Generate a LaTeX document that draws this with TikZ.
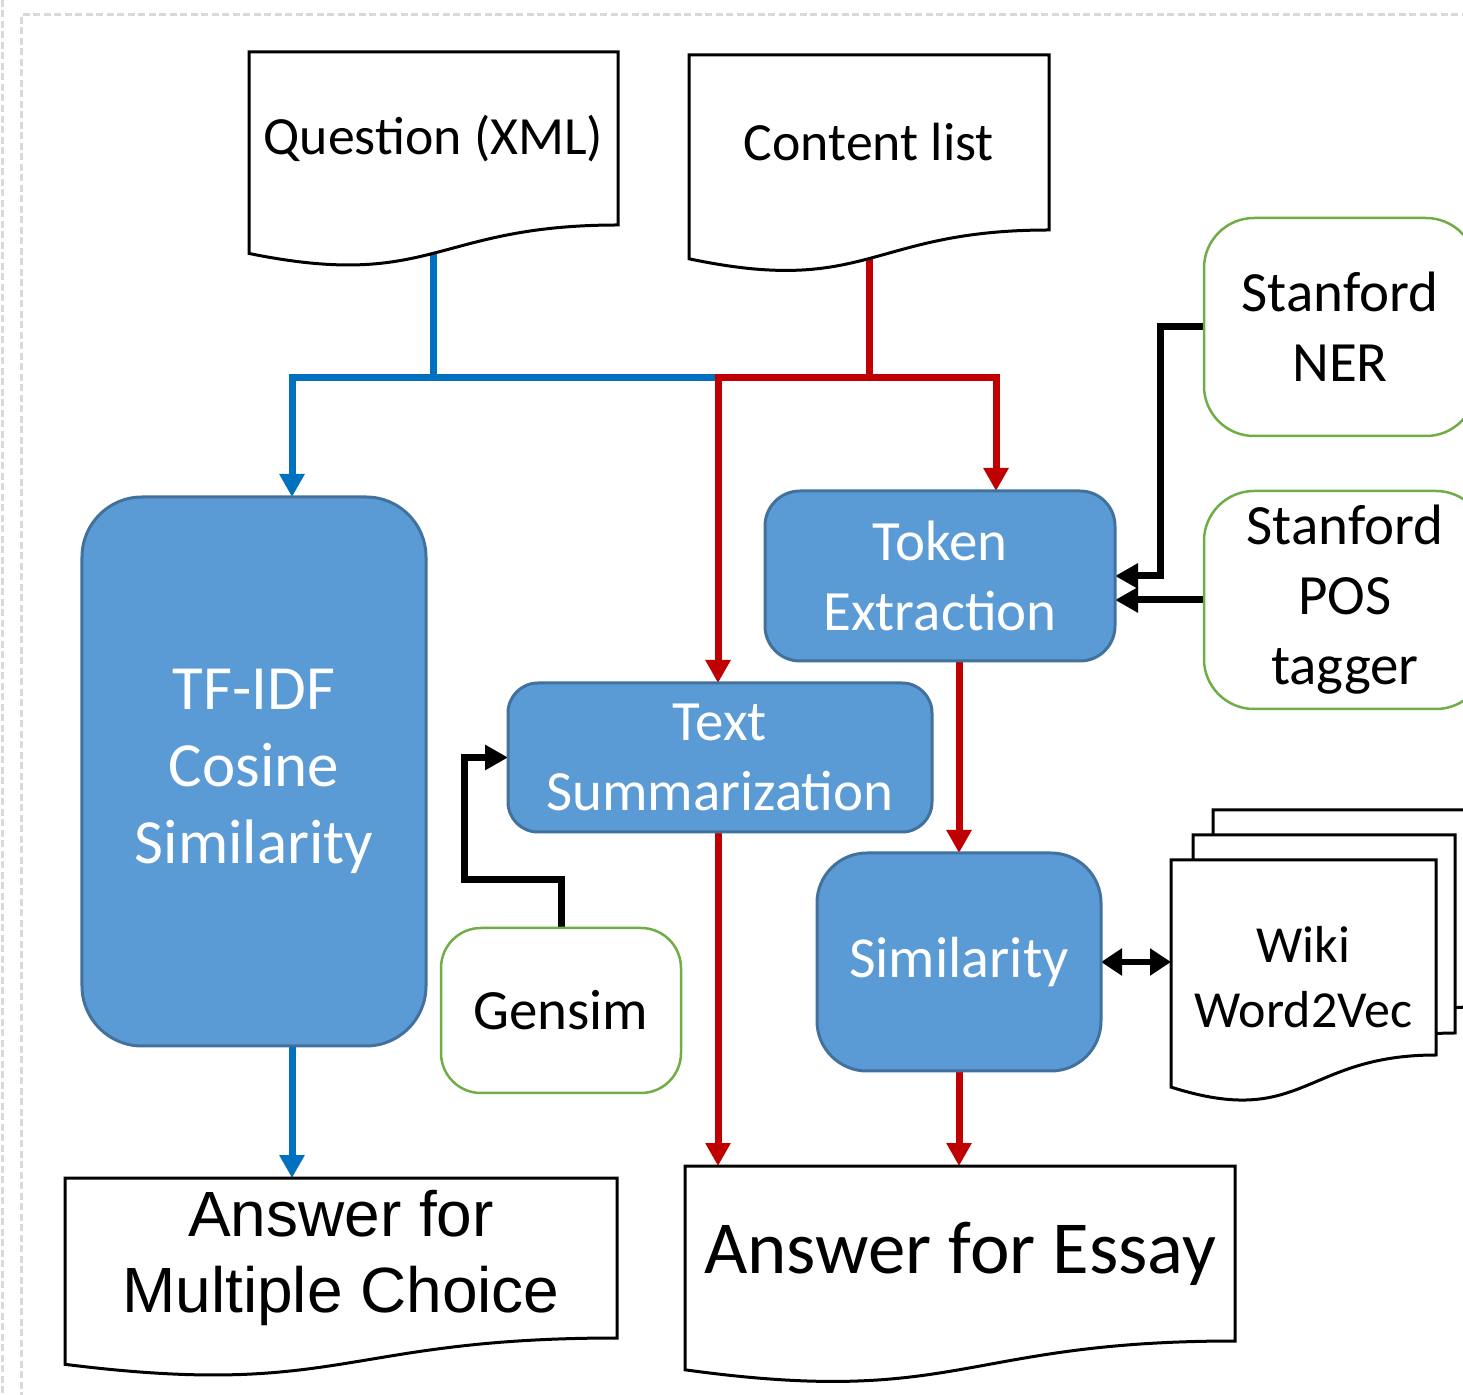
\documentclass[tikz,border=0pt]{standalone}
\usepackage{fontspec}
\setmainfont{Carlito}
\newfontfamily\arialfont{Liberation Sans}
\usetikzlibrary{arrows.meta, calc, positioning}
\pgfdeclarelayer{bg1}
\pgfdeclarelayer{bg2}
\pgfsetlayers{bg2,bg1,main}
\definecolor{procfill}{HTML}{5B9BD5}
\definecolor{procborder}{HTML}{41719C}
\definecolor{toolgreen}{HTML}{70AD47}
\definecolor{flowblue}{HTML}{0070C0}
\definecolor{flowred}{HTML}{C00000}
\definecolor{framegray}{HTML}{D9D9D9}
\tikzset{
	procbox/.style = {rectangle, draw = procborder, fill = procfill, line width = 0.03cm, text = white, align = center, font = {\fontsize{16.2pt}{19.9pt}\selectfont}},
	toolbox/.style = {rectangle, draw = toolgreen, fill = white, line width = 0.025cm, align = center, font = {\fontsize{16.2pt}{19.9pt}\selectfont}},
	docbox/.style = {rectangle, align = center, font = {\fontsize{15.3pt}{18pt}\selectfont}},
	docline/.style = {draw = black, fill = white, line width = 0.03cm},
	frameline/.style = {draw = framegray, line width = 0.03cm, dash pattern = on 0.07cm off 0.035cm},
	bluearrow/.style = {-{Triangle[width = 0.24cm, length = 0.23cm]}, draw = flowblue, line width = 0.07cm},
	blueline/.style = {draw = flowblue, line width = 0.07cm},
	redarrow/.style = {-{Triangle[width = 0.24cm, length = 0.23cm]}, draw = flowred, line width = 0.07cm},
	blackarrow/.style = {-{Triangle[width = 0.24cm, length = 0.23cm]}, draw = black, line width = 0.07cm},
	dblarrow/.style = {{Triangle[width = 0.26cm, length = 0.21cm]}-{Triangle[width = 0.26cm, length = 0.21cm]}, draw = black, line width = 0.06cm}
}
% document outline round a node: #1 node, #2 height of the straight part (cm)
\newcommand{\docpath}[2]{%
	\path[docline] (#1.north west) -- (#1.north east) -- ($(#1.north east)+(0,-#2)$)
	.. controls ($(#1.north)+(0,-#2)$) and ($(#1.north)+(0,-1.381*#2)$)
	.. ($(#1.north west)+(0,-1.1646*#2)$) -- cycle;}

\begin{document}
\begin{tikzpicture}[inner sep = 0pt, outer sep = 0pt]
	\useasboundingbox (0,0) rectangle (14.63,-13.95);
	\clip (0,0) rectangle (14.63,-13.95);
	
	%%%%%%%% inputs %%%%%%%%
	\node (quest) [docbox, minimum width = 3.69cm, minimum height = 1.73cm] at (4.335,-1.385) {Question (XML)};
	\node (content) [docbox, minimum width = 3.6cm, minimum height = 1.75cm] at (8.69,-1.425) {Content list};
	
	%% processing
	\node (tfidf) [procbox, rounded corners = 0.6cm, minimum width = 3.44cm, minimum height = 5.49cm, font = {\fontsize{17.9pt}{21.9pt}\selectfont}] at (2.54,-7.715) {TF-IDF\\Cosine\\Similarity};
	\node (token) [procbox, rounded corners = 0.35cm, minimum width = 3.5cm, minimum height = 1.7cm] at (9.4,-5.76) {Token\\Extraction};
	\node (textsum) [procbox, rounded corners = 0.3cm, minimum width = 4.24cm, minimum height = 1.49cm] at (7.2,-7.575) {Text\\Summarization};
	\node (sim) [procbox, rounded corners = 0.5cm, minimum width = 2.84cm, minimum height = 2.18cm, font = {\fontsize{16.5pt}{20pt}\selectfont}] at (9.59,-9.62) {Similarity};
	
	%% tools
	\node (ner) [toolbox, rounded corners = 0.5cm, minimum width = 2.72cm, minimum height = 2.18cm] at (13.4,-3.27) {Stanford\\NER};
	\node (pos) [toolbox, rounded corners = 0.5cm, minimum width = 2.82cm, minimum height = 2.18cm] at (13.45,-6.0) {Stanford\\POS\\tagger};
	\node (gensim) [toolbox, rounded corners = 0.4cm, minimum width = 2.4cm, minimum height = 1.65cm] at (5.61,-10.105) {Gensim};
	\node (wiki) [docbox, minimum width = 2.65cm, minimum height = 2.35cm, font = {\fontsize{14.8pt}{18.5pt}\selectfont}] at (13.035,-9.775) {Wiki\\Word2Vec};
	\node (wikimid) [minimum width = 2.62cm, minimum height = 2.35cm] at ([shift = {(0.205,0.25)}]wiki.center) {};
	\node (wikiback) [minimum width = 2.62cm, minimum height = 2.35cm] at ([shift = {(0.405,0.5)}]wiki.center) {};
	
	%% outputs
	\node (mc) [docbox, minimum width = 5.52cm, minimum height = 1.6cm, font = {\arialfont\fontsize{18.2pt}{21.8pt}\selectfont}] at (3.41,-12.58) {Answer for\\Multiple Choice};
	\node (essay) [docbox, minimum width = 5.5cm, minimum height = 1.75cm, font = {\fontsize{21.3pt}{25pt}\selectfont}] at (9.6,-12.535) {Answer for Essay};
	
	%%% document outlines %%%
	\begin{pgfonlayer}{bg1}
	\docpath{quest}{1.73}
	\docpath{content}{1.75}
	\docpath{wikiback}{1.97}
	\docpath{wikimid}{1.98}
	\docpath{wiki}{1.95}
	\docpath{mc}{1.6}
	\docpath{essay}{1.75}
	\end{pgfonlayer}
	
	%%% arrows %%%
	\begin{pgfonlayer}{bg2}
	\fill [white] (0,0) rectangle (14.63,-13.95);
	\draw [frameline] (0.02,0) -- (0.02,-13.95);
	\draw [frameline] (15,-0.15) -- (0.21,-0.15) -- (0.21,-14.2);
	
	\coordinate (join) at (7.18,-3.78);
	\draw [bluearrow] (quest.south) -- (quest.south |- join) -| ([xshift = 0.38cm]tfidf.north);
	\draw [blueline] (quest.south |- join) -- (join);
	\draw [redarrow] (content.south) -- (content.south |- join) -- (join) -- (join |- textsum.north);
	\draw [redarrow] (content.south |- join) -| ([xshift = 0.56cm]token.north);
	
	\draw [blackarrow] (ner.west) -- ++(-0.44,0) |- (token.east);
	\draw [blackarrow] (pos.west) -- (pos.west -| token.east);
	\draw [blackarrow] (gensim.north) -- ++(0,0.48) -- ++(-0.97,0) |- (textsum.west);
	
	\draw [redarrow] (sim.north |- token.south) -- (sim.north);
	\draw [dblarrow] (sim.east) -- (sim.east -| wiki.west);
	
	% results
	\draw [bluearrow] ([xshift = 0.38cm]tfidf.south) -- ([xshift = 0.38cm]tfidf.south |- mc.north);
	\draw [redarrow] (join |- textsum.south) -- (join |- essay.north);
	\draw [redarrow] (sim.south) -- (sim.south |- essay.north);
	\end{pgfonlayer}
\end{tikzpicture}
\end{document}
